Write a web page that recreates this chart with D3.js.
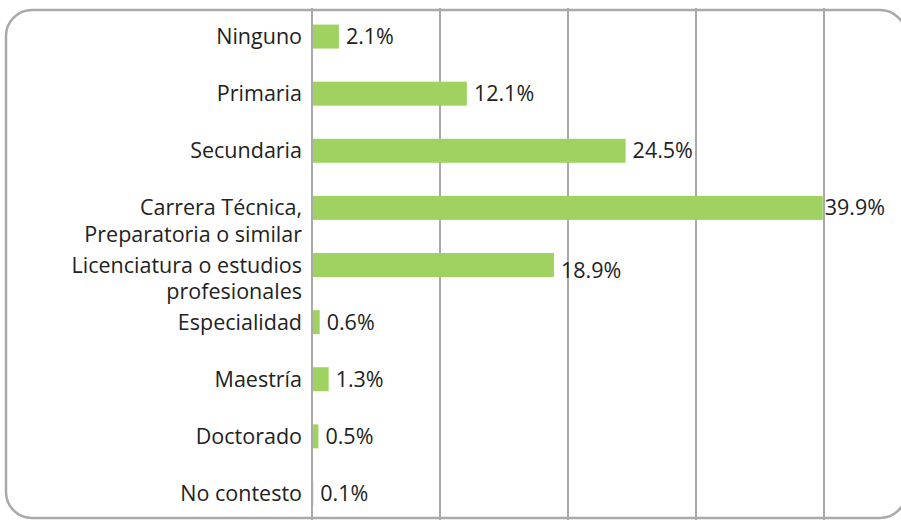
<!DOCTYPE html>
<html><head><meta charset="utf-8">
<script src="https://cdn.jsdelivr.net/npm/d3@7"></script>
<style>body{margin:0;background:#fff}svg{display:block}</style>
</head><body>
<svg id="c" width="901" height="520"></svg>
<script>
const categories = [["Ninguno"],["Primaria"],["Secundaria"],["Carrera Técnica,","Preparatoria o similar"],["Licenciatura o estudios","profesionales"],["Especialidad"],["Maestría"],["Doctorado"],["No contesto"]];
const values = [2.1, 12.1, 24.5, 39.9, 18.9, 0.6, 1.3, 0.5, 0.1];
const gridTicks = [0, 10, 20, 30, 40];

const svg = d3.select("#c");
const font = "'Open Sans', sans-serif";
svg.append("rect").attr("x",6).attr("y",10).attr("width",900).attr("height",508)
  .attr("rx",26).attr("fill","#fff").attr("stroke","#a9a9a9").attr("stroke-width",2.5);

const x = d3.scaleLinear().domain([0,40]).range([312,824]);
const y = d3.scaleBand().domain(d3.range(values.length)).range([8,522]).paddingInner(0.58).paddingOuter(0.29);

svg.append("g").selectAll("line").data(gridTicks).join("line")
  .attr("x1",d=>x(d)).attr("x2",d=>x(d)).attr("y1",8).attr("y2",520)
  .attr("stroke","#aaaaaa").attr("stroke-width",2);

svg.append("g").selectAll("rect").data(values).join("rect")
  .attr("x",x(0)+1).attr("y",(d,i)=>y(i)).attr("width",d=>Math.max(0,x(d)-x(0)-1)).attr("height",y.bandwidth())
  .attr("fill","#9fd260");

svg.append("g").selectAll("text").data(values).join("text")
  .attr("x",d=>x(d)+(d>39?2:7)).attr("y",(d,i)=>y(i)+y.bandwidth()/2+(i===4?5:0))
  .attr("dy","0.35em").attr("font-family",font).attr("font-size",21.5).attr("fill","#222")
  .text(d=>d.toFixed(1)+"%");

const lab = svg.append("g").selectAll("text").data(categories).join("text")
  .attr("x",302).attr("y",(d,i)=>y(i)+y.bandwidth()/2)
  .attr("text-anchor","end").attr("font-family",font).attr("font-size",21.5).attr("fill","#222");
lab.selectAll("tspan").data(d=>d).join("tspan").attr("x",302).attr("dy",(d,j)=>j===0?"0.35em":"1.25em").text(d=>d);
</script>
</body></html>
